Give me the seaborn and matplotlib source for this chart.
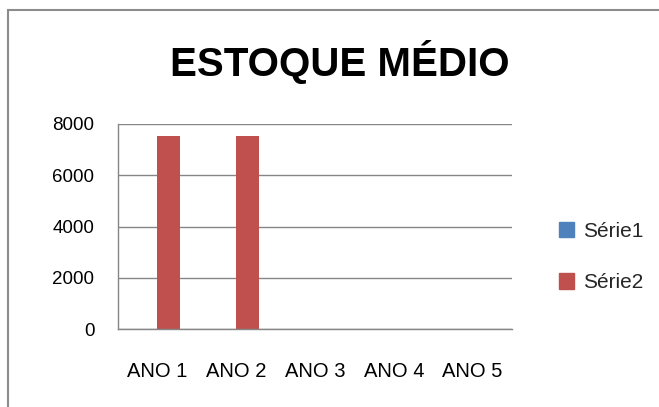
import matplotlib
matplotlib.use("Agg")
import matplotlib.pyplot as plt
import matplotlib.patches as mpatches
from matplotlib import font_manager
import seaborn as sns
import pandas as pd

categories = ["ANO 1", "ANO 2", "ANO 3", "ANO 4", "ANO 5"]
serie1 = [0, 0, 0, 0, 0]
serie2 = [7540, 7540, 0, 0, 0]
series_names = ["Série1", "Série2"]
y_ticks = [0, 2000, 4000, 6000, 8000]
title = "ESTOQUE MÉDIO"

sns.set_theme(style="white")
avail = {f.name for f in font_manager.fontManager.ttflist}
fam = [f for f in ["Liberation Sans Narrow", "Liberation Sans", "DejaVu Sans"] if f in avail]
plt.rcParams["font.family"] = fam

df = pd.DataFrame({
    "cat": categories * 2,
    "val": serie1 + serie2,
    "serie": [series_names[0]] * 5 + [series_names[1]] * 5,
})

W, H = 659, 407
fig = plt.figure(figsize=(W / 100, H / 100), dpi=100)
fig.patch.set_facecolor("white")
ax = fig.add_axes([118 / W, 1 - 329 / H, (512 - 118) / W, (329 - 124) / H])

palette = {"Série1": "#4F81BD", "Série2": "#C0504D"}
sns.barplot(data=df, x="cat", y="val", hue="serie", palette=palette,
            width=0.584, ax=ax, legend=False, saturation=1, linewidth=0)

ax.set_xlim(-0.5, 4.5)
ax.set_ylim(0, 8000)
ax.set_yticks(y_ticks)
ax.set_yticklabels([str(v) for v in y_ticks], fontsize=13.5, color="#000000")
ax.set_xticks(range(5))
ax.set_xticklabels(categories, fontsize=14.5, color="#000000")
ax.set_xlabel("")
ax.set_ylabel("")
ax.set_xticks([i - 0.5 for i in range(6)], minor=True)
ax.tick_params(axis="x", which="major", length=0, pad=24)
ax.tick_params(axis="x", which="minor", length=9, width=1, color="#868686", direction="out")
ax.tick_params(axis="y", length=9, width=1, color="#868686", direction="out", pad=8)
ax.grid(axis="y", color="#868686", linewidth=1)
ax.set_axisbelow(True)
for s in ["top", "right"]:
    ax.spines[s].set_visible(False)
for s in ["left", "bottom"]:
    ax.spines[s].set_color("#868686")
    ax.spines[s].set_linewidth(1)

fig.text(340 / W, 1 - 62 / H, title, fontsize=29, fontweight="bold",
         ha="center", va="center", color="#000000")

handles = [mpatches.Patch(color=palette[n], label=n) for n in series_names]
leg = fig.legend(handles=handles, loc="center left", bbox_to_anchor=(540 / W, 1 - 257 / H),
                 frameon=False, fontsize=15, handlelength=0.75, handleheight=0.75,
                 handletextpad=0.4, labelspacing=1.55)

border = mpatches.Rectangle((8 / W, -0.1), 1.2, 1.1 - 10 / H, transform=fig.transFigure,
                            fill=False, edgecolor="#8c8c8c", linewidth=1.5)
fig.patches.append(border)

fig.savefig("out.png", dpi=100)
